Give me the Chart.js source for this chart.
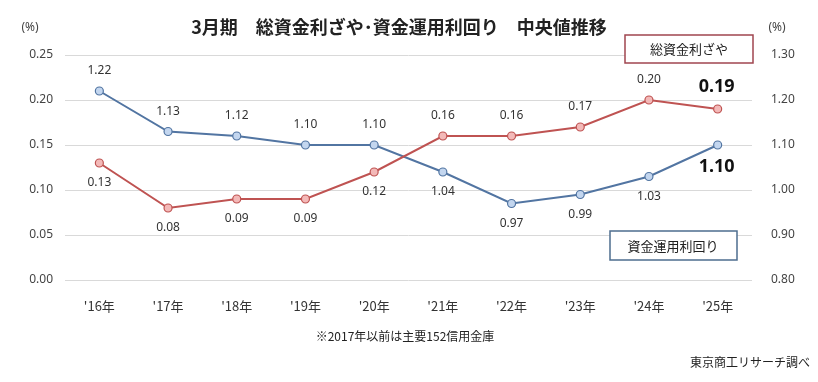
<!DOCTYPE html>
<html>
<head>
<meta charset="utf-8">
<script src="https://cdn.jsdelivr.net/npm/chart.js@4"></script>
<style>
  html, body { margin: 0; padding: 0; background: #fff; }
  #wrap { width: 818px; height: 382px; position: relative; }
</style>
</head>
<body>
<div id="wrap"><canvas id="marginChart"></canvas></div>
<script>
// data
const years = ["'16年", "'17年", "'18年", "'19年", "'20年", "'21年", "'22年", "'23年", "'24年", "'25年"];
const spreadValues = [0.13, 0.08, 0.09, 0.09, 0.12, 0.16, 0.16, 0.17, 0.20, 0.19];   // 総資金利ざや (left axis)
const yieldValues = [1.22, 1.13, 1.12, 1.10, 1.10, 1.04, 0.97, 0.99, 1.03, 1.10];    // 資金運用利回り (right axis)
const leftTicks = [0.00, 0.05, 0.10, 0.15, 0.20, 0.25];
const rightTicks = [0.80, 0.90, 1.00, 1.10, 1.20, 1.30];

// where each value label sits relative to its point
const spreadLabelSide = ['below', 'below', 'below', 'below', 'below', 'above', 'above', 'above', 'above', 'above'];
const yieldLabelSide = ['above', 'above', 'above', 'above', 'above', 'below', 'below', 'below', 'below', 'below'];

const JP = '"Noto Sans CJK JP", "Noto Sans", sans-serif';
const NUM = '"Noto Sans", "Noto Sans CJK JP", sans-serif';

// value labels + title + boxes, drawn on top of the chart
const decorations = {
    id: 'decorations',
    afterDatasetsDraw(chart) {
        const ctx = chart.ctx;
        ctx.save();
        ctx.textAlign = 'center';
        ctx.textBaseline = 'middle';

        const sides = [spreadLabelSide, yieldLabelSide];
        chart.data.datasets.forEach((ds, di) => {
            const meta = chart.getDatasetMeta(di);
            meta.data.forEach((pt, i) => {
                const last = i === ds.data.length - 1;
                const off = last ? 22 : 20;
                const y = sides[di][i] === 'above' ? pt.y - off : pt.y + off;
                ctx.font = last ? 'bold 18px ' + NUM : '12px ' + NUM;
                ctx.fillStyle = last ? '#111' : '#333';
                ctx.fillText(ds.data[i].toFixed(2), last ? pt.x - 1 : pt.x, y);
            });
        });

        // title
        ctx.font = 'bold 18px ' + JP;
        ctx.fillStyle = '#222';
        ctx.fillText('3月期　総資金利ざや･資金運用利回り　中央値推移', 399, 27);

        // unit labels
        ctx.font = '12px ' + NUM;
        ctx.fillStyle = '#444';
        ctx.fillText('(%)', 30, 28);
        ctx.fillText('(%)', 777, 28);

        // series name boxes
        ctx.font = '13px ' + JP;
        ctx.lineWidth = 1.5;
        ctx.fillStyle = '#fff';
        ctx.strokeStyle = '#a0454f';
        ctx.fillRect(625, 35, 128, 28);
        ctx.strokeRect(625, 35, 128, 28);
        ctx.fillStyle = '#222';
        ctx.fillText('総資金利ざや', 689, 49);

        ctx.fillStyle = '#fff';
        ctx.strokeStyle = '#4d6d8f';
        ctx.fillRect(610, 231, 127, 29);
        ctx.strokeRect(610, 231, 127, 29);
        ctx.fillStyle = '#222';
        ctx.fillText('資金運用利回り', 673, 246);

        // notes
        ctx.font = '12px ' + JP;
        ctx.fillStyle = '#222';
        ctx.fillText('※2017年以前は主要152信用金庫', 405, 336);
        ctx.textAlign = 'right';
        ctx.fillText('東京商工リサーチ調べ', 810, 362);
        ctx.restore();
    }
};

const ctx = document.getElementById('marginChart').getContext('2d');
new Chart(ctx, {
    type: 'line',
    data: {
        labels: years,
        datasets: [{
            label: '総資金利ざや',
            data: spreadValues,
            yAxisID: 'yLeft',
            borderColor: '#bf5352',
            backgroundColor: '#f3b9b8',
            pointBorderColor: '#bf5352',
            pointBackgroundColor: '#f3b9b8',
            borderWidth: 2,
            pointRadius: 4,
            pointBorderWidth: 1.2,
            tension: 0
        }, {
            label: '資金運用利回り',
            data: yieldValues,
            yAxisID: 'yRight',
            borderColor: '#5275a2',
            backgroundColor: '#c3d6ef',
            pointBorderColor: '#5275a2',
            pointBackgroundColor: '#c3d6ef',
            borderWidth: 2,
            pointRadius: 4,
            pointBorderWidth: 1.2,
            tension: 0
        }]
    },
    options: {
        responsive: true,
        maintainAspectRatio: false,
        animation: false,
        layout: { padding: { top: 55, left: 0, right: 0, bottom: 0 } },
        plugins: {
            legend: { display: false },
            title: { display: false },
            tooltip: { enabled: false }
        },
        scales: {
            x: {
                offset: true,
                grid: { display: false },
                border: { display: false },
                ticks: { color: '#333', font: { family: JP, size: 13 }, padding: 10, maxRotation: 0 },
                afterFit(scale) { scale.height = 102; }
            },
            yLeft: {
                position: 'left',
                min: leftTicks[0],
                max: leftTicks[leftTicks.length - 1],
                afterBuildTicks(scale) { scale.ticks = leftTicks.map(v => ({ value: v })); },
                grid: { color: '#d9d9d9', lineWidth: 1, drawTicks: false },
                border: { display: false },
                ticks: {
                    color: '#444', font: { family: NUM, size: 12 }, padding: 12,
                    callback: v => v.toFixed(2)
                },
                afterFit(scale) { scale.width = 65; }
            },
            yRight: {
                position: 'right',
                min: rightTicks[0],
                max: rightTicks[rightTicks.length - 1],
                afterBuildTicks(scale) { scale.ticks = rightTicks.map(v => ({ value: v })); },
                grid: { display: false },
                border: { display: false },
                ticks: {
                    color: '#444', font: { family: NUM, size: 12 }, padding: 11,
                    callback: v => v.toFixed(2)
                },
                afterFit(scale) { scale.width = 66; }
            }
        }
    },
    plugins: [decorations]
});
</script>
</body>
</html>
